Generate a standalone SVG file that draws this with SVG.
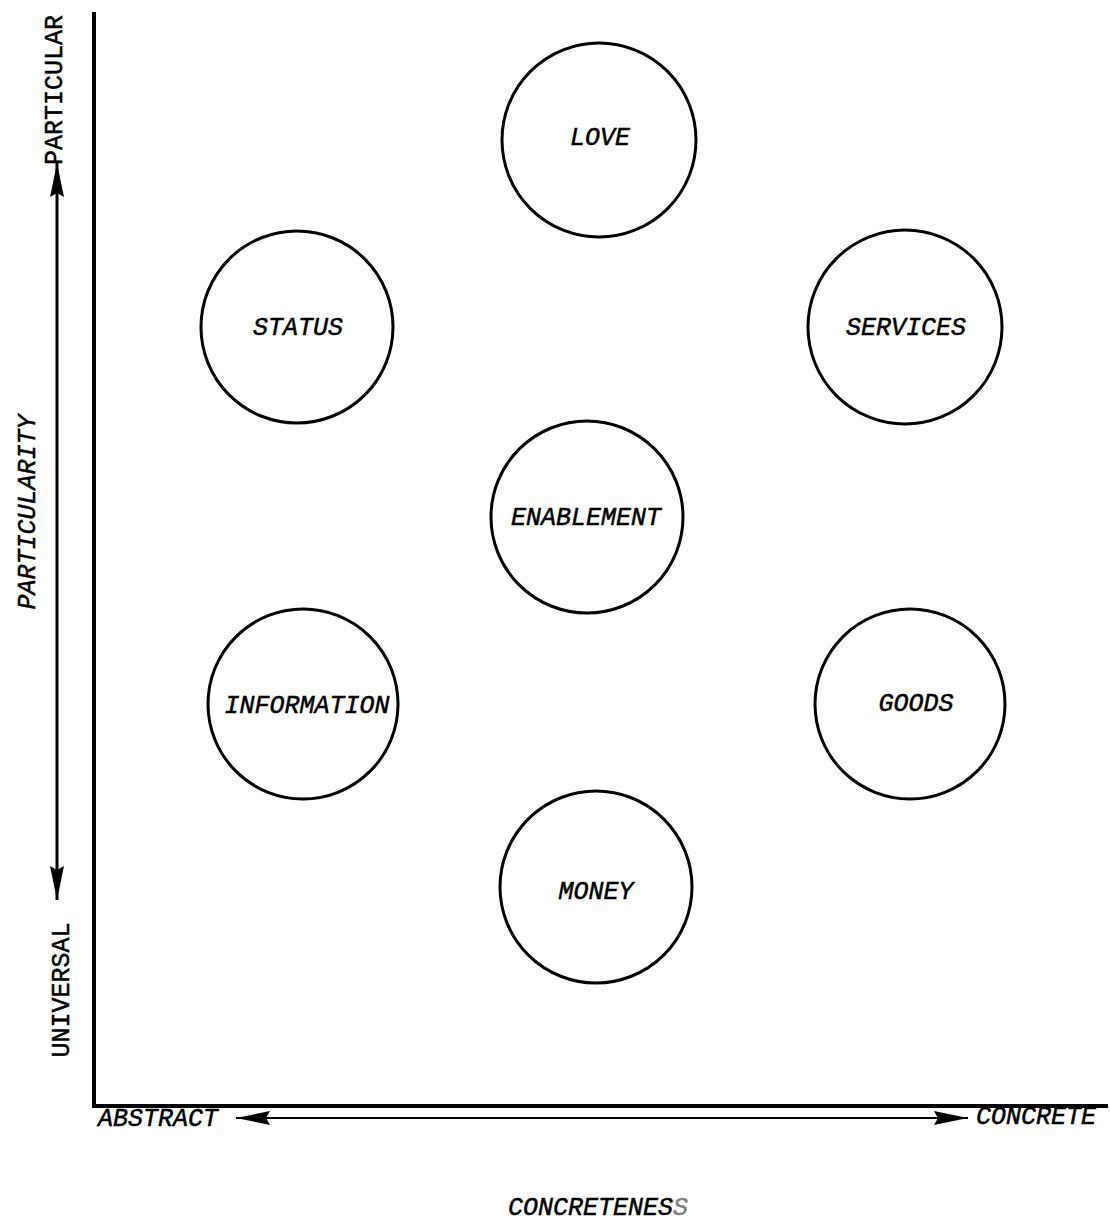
<svg xmlns="http://www.w3.org/2000/svg" width="1110" height="1226" viewBox="0 0 1110 1226">
<style>
.c{fill:none;stroke:#000;stroke-width:3}
.t{font-family:"Liberation Mono","DejaVu Sans Mono",monospace;font-style:italic;font-size:25px;fill:#000;stroke:#000;stroke-width:0.5;text-anchor:middle;dominant-baseline:central}
.ax{font-family:"Liberation Mono","DejaVu Sans Mono",monospace;font-size:25px;fill:#000;stroke:#000;stroke-width:0.5;text-anchor:middle;dominant-baseline:central}
.ln{stroke:#000;fill:none}
</style>
<defs>
<marker id="ah2" viewBox="0 0 34 14" refX="34" refY="7" markerWidth="34" markerHeight="14" markerUnits="userSpaceOnUse" orient="auto-start-reverse">
<path d="M0,0 L34,7 L0,14 L4,7 Z" fill="#000"/>
</marker>
</defs>
<rect width="1110" height="1226" fill="#fff"/>
<g id="axes">
<path class="ln" stroke-width="4" d="M94,12 L94,1106 L1108,1106"/>
</g>
<g id="connectors">
<line class="ln" stroke-width="3" x1="57" y1="163" x2="57" y2="900" marker-start="url(#ah2)" marker-end="url(#ah2)"/>
<line class="ln" stroke-width="2" x1="236" y1="1118" x2="968" y2="1118" marker-start="url(#ah2)" marker-end="url(#ah2)"/>
</g>
<g id="axis-labels">
<text class="ax" transform="translate(55,90) rotate(-90)">PARTICULAR</text>
<text class="t" transform="translate(28,512) rotate(-90)">PARTICULARITY</text>
<text class="ax" transform="translate(62,990) rotate(-90)">UNIVERSAL</text>
<text class="t" x="158" y="1119">ABSTRACT</text>
<text class="t" x="1036" y="1117">CONCRETE</text>
<text class="t" x="598" y="1208">CONCRETENES<tspan opacity="0.5">S</tspan></text>
</g>
<g id="love"><circle class="c" cx="599" cy="140" r="97"/><text class="t" x="600" y="138">LOVE</text></g>
<g id="status"><circle class="c" cx="297" cy="327" r="96"/><text class="t" x="298" y="328">STATUS</text></g>
<g id="services"><circle class="c" cx="905" cy="327" r="97"/><text class="t" x="906" y="328">SERVICES</text></g>
<g id="enablement"><circle class="c" cx="587" cy="517" r="96"/><text class="t" x="586" y="518">ENABLEMENT</text></g>
<g id="information"><circle class="c" cx="303" cy="704" r="95"/><text class="t" x="307" y="706">INFORMATION</text></g>
<g id="goods"><circle class="c" cx="910" cy="704" r="95"/><text class="t" x="916" y="704">GOODS</text></g>
<g id="money"><circle class="c" cx="596" cy="887" r="96"/><text class="t" x="596" y="892">MONEY</text></g>
</svg>
